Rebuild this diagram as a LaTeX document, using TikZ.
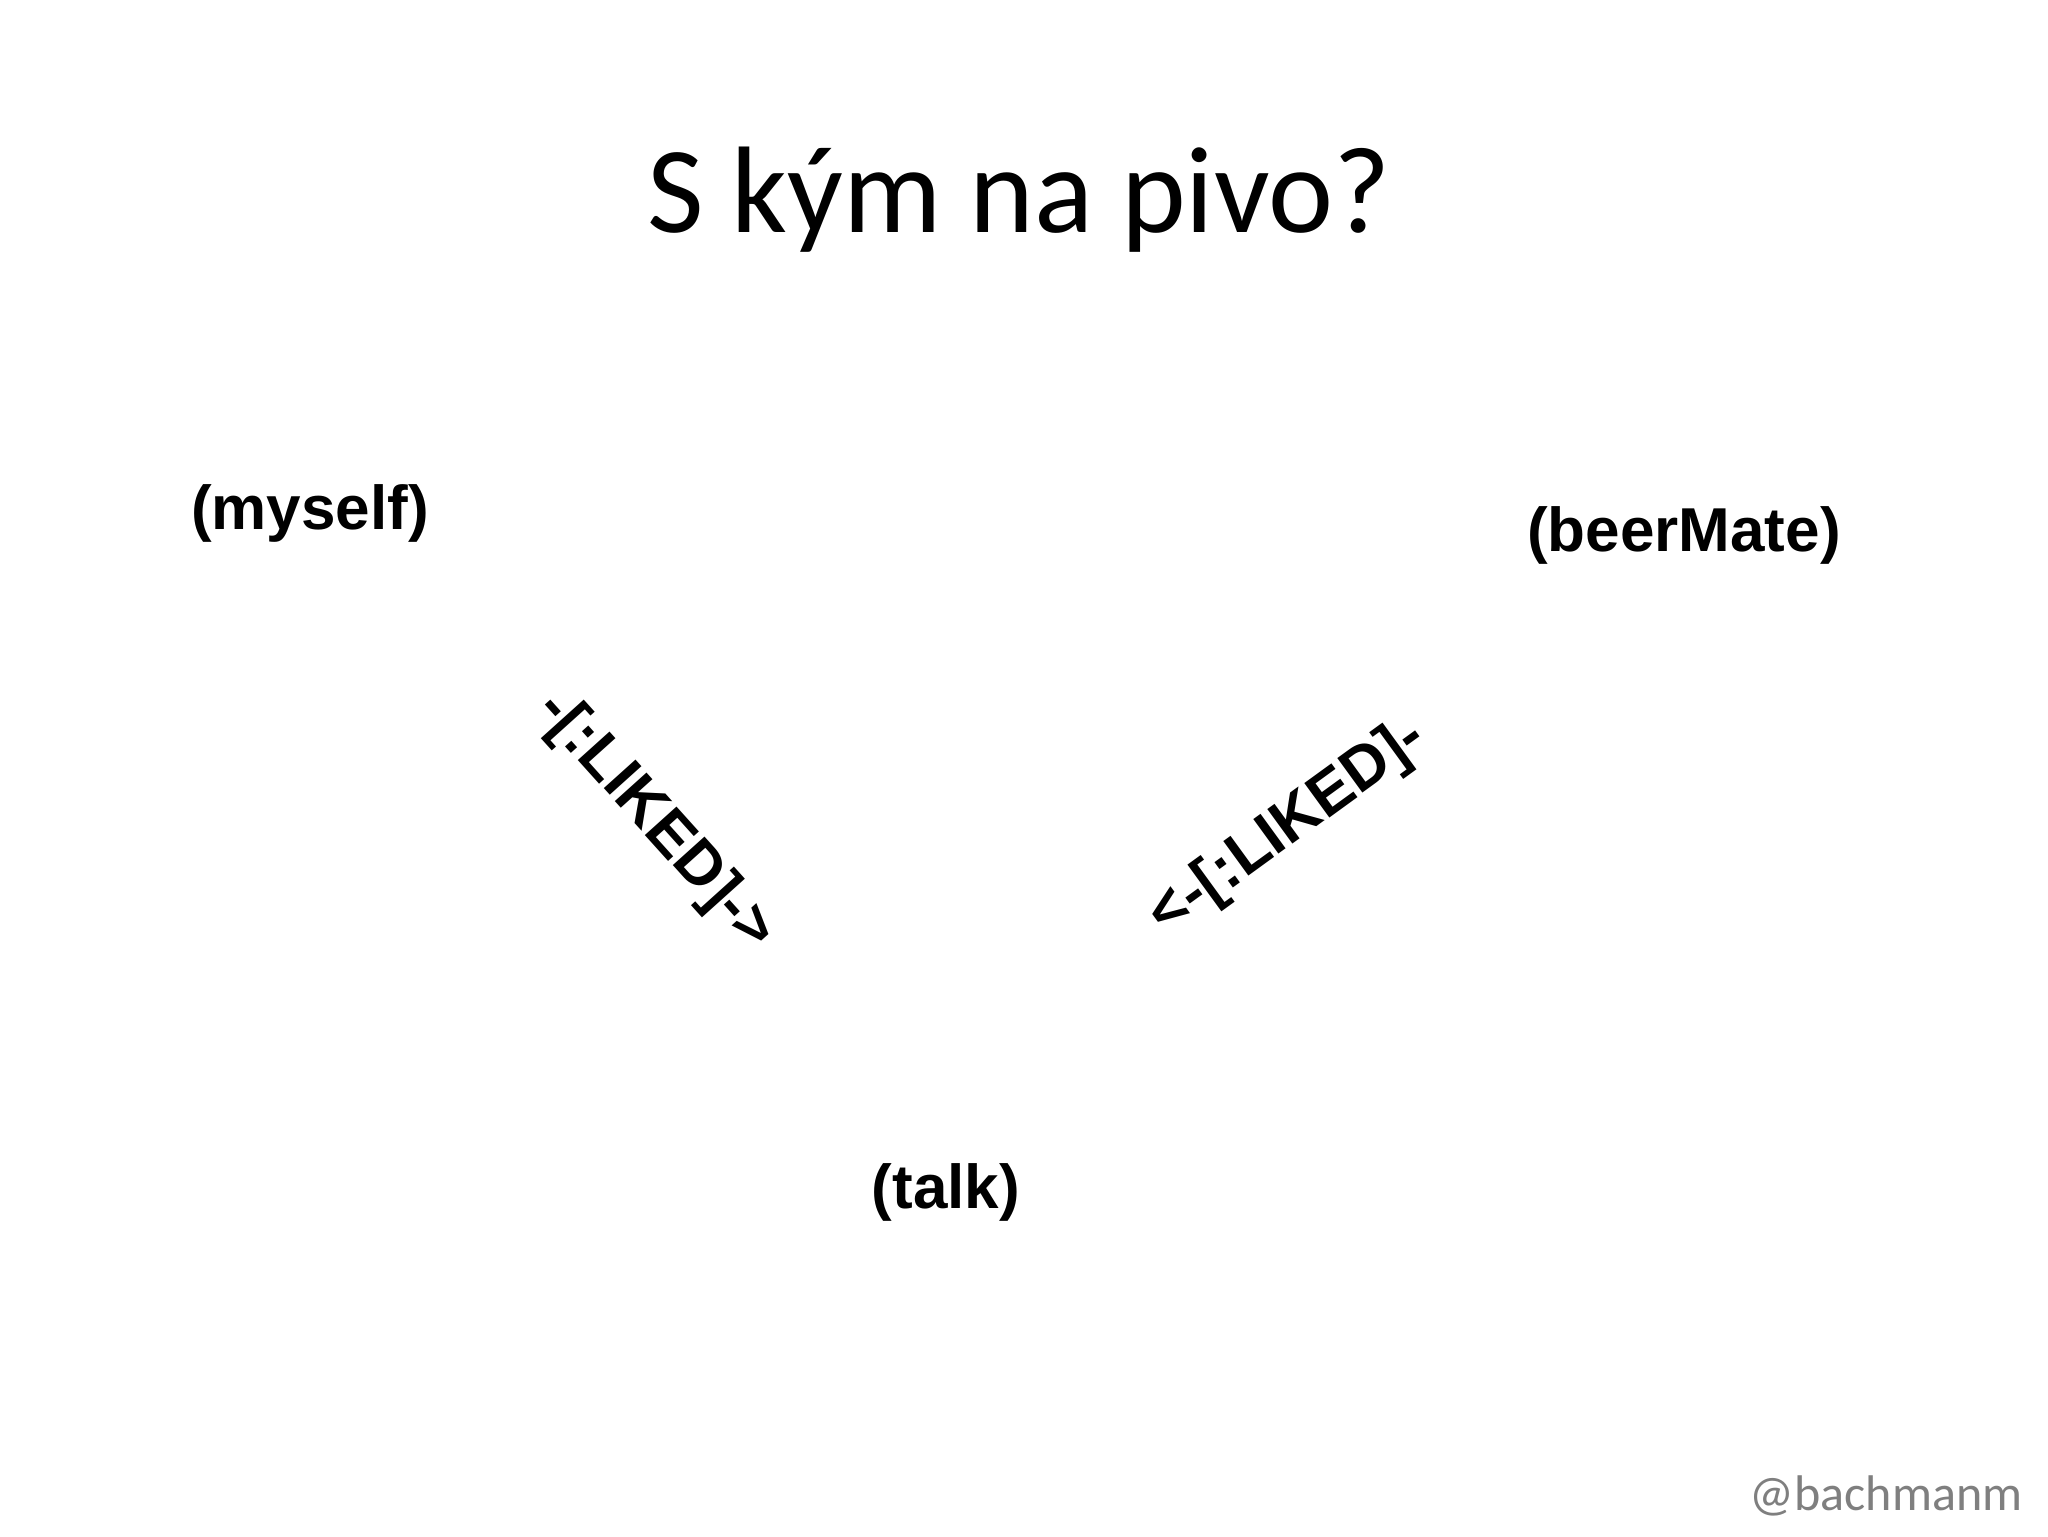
\documentclass[tikz,border=0pt]{standalone}
\usepackage{fontspec}
\setmainfont{Carlito}
\newfontfamily\labelfont{Liberation Sans}[BoldFont={Liberation Sans Bold}]
\definecolor{signgray}{HTML}{7F7F7F}
\tikzset{
  titletext/.style={inner sep=0pt, anchor=base, font=\fontsize{43.3pt}{50pt}\selectfont},
  nodelabel/.style={inner sep=0pt, anchor=base, font=\labelfont\bfseries\fontsize{21.8pt}{26pt}\selectfont},
  rellabel/.style={inner sep=0pt, anchor=center, font=\labelfont\bfseries\fontsize{21.8pt}{26pt}\selectfont},
  signtext/.style={inner sep=0pt, anchor=base, text=signgray, font=\fontsize{17.6pt}{21pt}\selectfont}
}
\begin{document}
\begin{tikzpicture}[x=0.3516pt, y=-0.3516pt]
\useasboundingbox (0,0) rectangle (2048,1536);
\fill[white] (0,0) rectangle (2048,1536);
\node[titletext] (title) at (1019,232) {S kým na pivo?};
\node[nodelabel] (myself) at (310,529) {(myself)};
\node[nodelabel] (beermate) at (1684,551) {(beerMate)};
\node[nodelabel] (talk) at (946,1208) {(talk)};
\node[rellabel, rotate=-48] (liked1) at (655,822) {-[:LIKED]->};
\node[rellabel, rotate=36] (liked2) at (1288,828) {<-[:LIKED]-};
\node[signtext] (sign) at (1886,1510) {@bachmanm};
\end{tikzpicture}
\end{document}
